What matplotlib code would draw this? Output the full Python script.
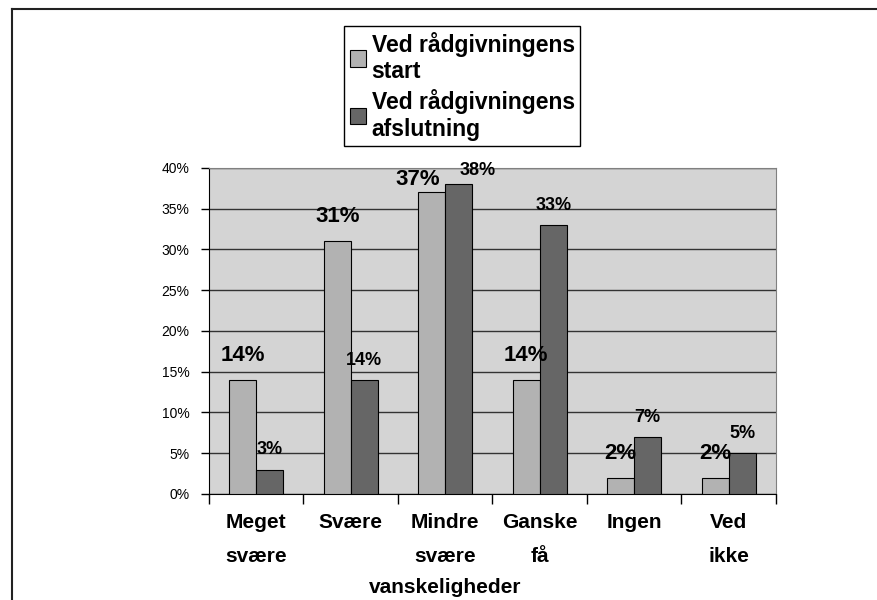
import numpy as np
import matplotlib
matplotlib.use("Agg")
import matplotlib.pyplot as plt
from matplotlib.lines import Line2D

plt.rcParams['font.family'] = ['Liberation Sans', 'DejaVu Sans']

categories = ["Meget\nsvære", "Svære", "Mindre\nsvære\nvanskeligheder", "Ganske\nfå", "Ingen", "Ved\nikke"]
start = [14, 31, 37, 14, 2, 2]
slut = [3, 14, 38, 33, 7, 5]
series_names = ["Ved rådgivningens\nstart", "Ved rådgivningens\nafslutning"]
yticks = [0, 5, 10, 15, 20, 25, 30, 35, 40]

# label nudges (points) so the two labels at the tallest pair don't collide
start_dx = [0, 0, -10, 0, 0, 0]
start_dy = [10, 10, 2, 10, 10, 10]
slut_dx = [0, 0, 14, 0, 0, 0]
slut_dy = [8, 8, 4, 8, 8, 8]

fig = plt.figure(figsize=(8.77, 6.0), dpi=100)
ax = fig.add_axes([0.2383, 0.1767, 0.6465, 0.5433])
ax.set_facecolor("#d4d4d4")

x = np.arange(len(categories))
w = 0.285
ax.bar(x - w / 2, start, w, color="#b2b2b2", edgecolor="black", linewidth=0.8,
       label=series_names[0], zorder=3)
ax.bar(x + w / 2, slut, w, color="#666666", edgecolor="black", linewidth=0.8,
       label=series_names[1], zorder=3)

for i, v in enumerate(start):
    ax.annotate(f"{v}%", (x[i] - w / 2, v), xytext=(start_dx[i], start_dy[i]),
                textcoords="offset points", ha="center", va="bottom",
                fontsize=16, fontweight="bold", zorder=5)
for i, v in enumerate(slut):
    ax.annotate(f"{v}%", (x[i] + w / 2, v), xytext=(slut_dx[i], slut_dy[i]),
                textcoords="offset points", ha="center", va="bottom",
                fontsize=13, fontweight="bold", zorder=5)

ax.set_ylim(0, 40)
ax.set_xlim(-0.5, len(categories) - 0.5)
ax.set_yticks(yticks)
ax.set_yticklabels([f"{t}%" for t in yticks], fontsize=10)
ax.yaxis.grid(True, color="#333333", linewidth=1.0, zorder=1)
ax.tick_params(axis="y", direction="out", length=6, width=1, pad=8)

# category labels: first two lines as tick labels, a third line (wider than
# its slot) as its own text below
ax.set_xticks(np.arange(len(categories) + 1) - 0.5)
ax.set_xticklabels([])
ax.set_xticks(x, minor=True)
short = ["\n".join(c.split("\n")[:2]) for c in categories]
ax.set_xticklabels(short, minor=True, fontsize=15, fontweight="bold", linespacing=1.98)
ax.tick_params(axis="x", which="major", direction="out", length=7, width=1)
ax.tick_params(axis="x", which="minor", length=0, pad=14)
for i, c in enumerate(categories):
    parts = c.split("\n")
    if len(parts) > 2:
        ax.annotate("\n".join(parts[2:]), (x[i], 0), xytext=(0, -67.5),
                    textcoords="offset points", ha="center", va="center",
                    fontsize=15, fontweight="bold", annotation_clip=False)

ax.spines["left"].set_color("black")
ax.spines["bottom"].set_color("black")
ax.spines["top"].set_color("#808080")
ax.spines["right"].set_color("#808080")

leg = fig.legend(loc="upper left", bbox_to_anchor=(344 / 877, 1 - 26 / 600),
                 prop={"weight": "bold", "size": 16.5},
                 handlelength=0.7, handleheight=0.7, handletextpad=0.25,
                 borderpad=0.25, labelspacing=0.25, borderaxespad=0,
                 fancybox=False, framealpha=1, edgecolor="black")
leg.get_frame().set_linewidth(1.0)

# outer frame: only top and left edges are visible in the original
fig.add_artist(Line2D([12 / 877, 1], [1 - 9 / 600, 1 - 9 / 600], transform=fig.transFigure,
                      color="#222222", linewidth=1.5))
fig.add_artist(Line2D([12 / 877, 12 / 877], [0, 1 - 9 / 600], transform=fig.transFigure,
                      color="#222222", linewidth=1.5))

fig.savefig("out.png", dpi=100)
